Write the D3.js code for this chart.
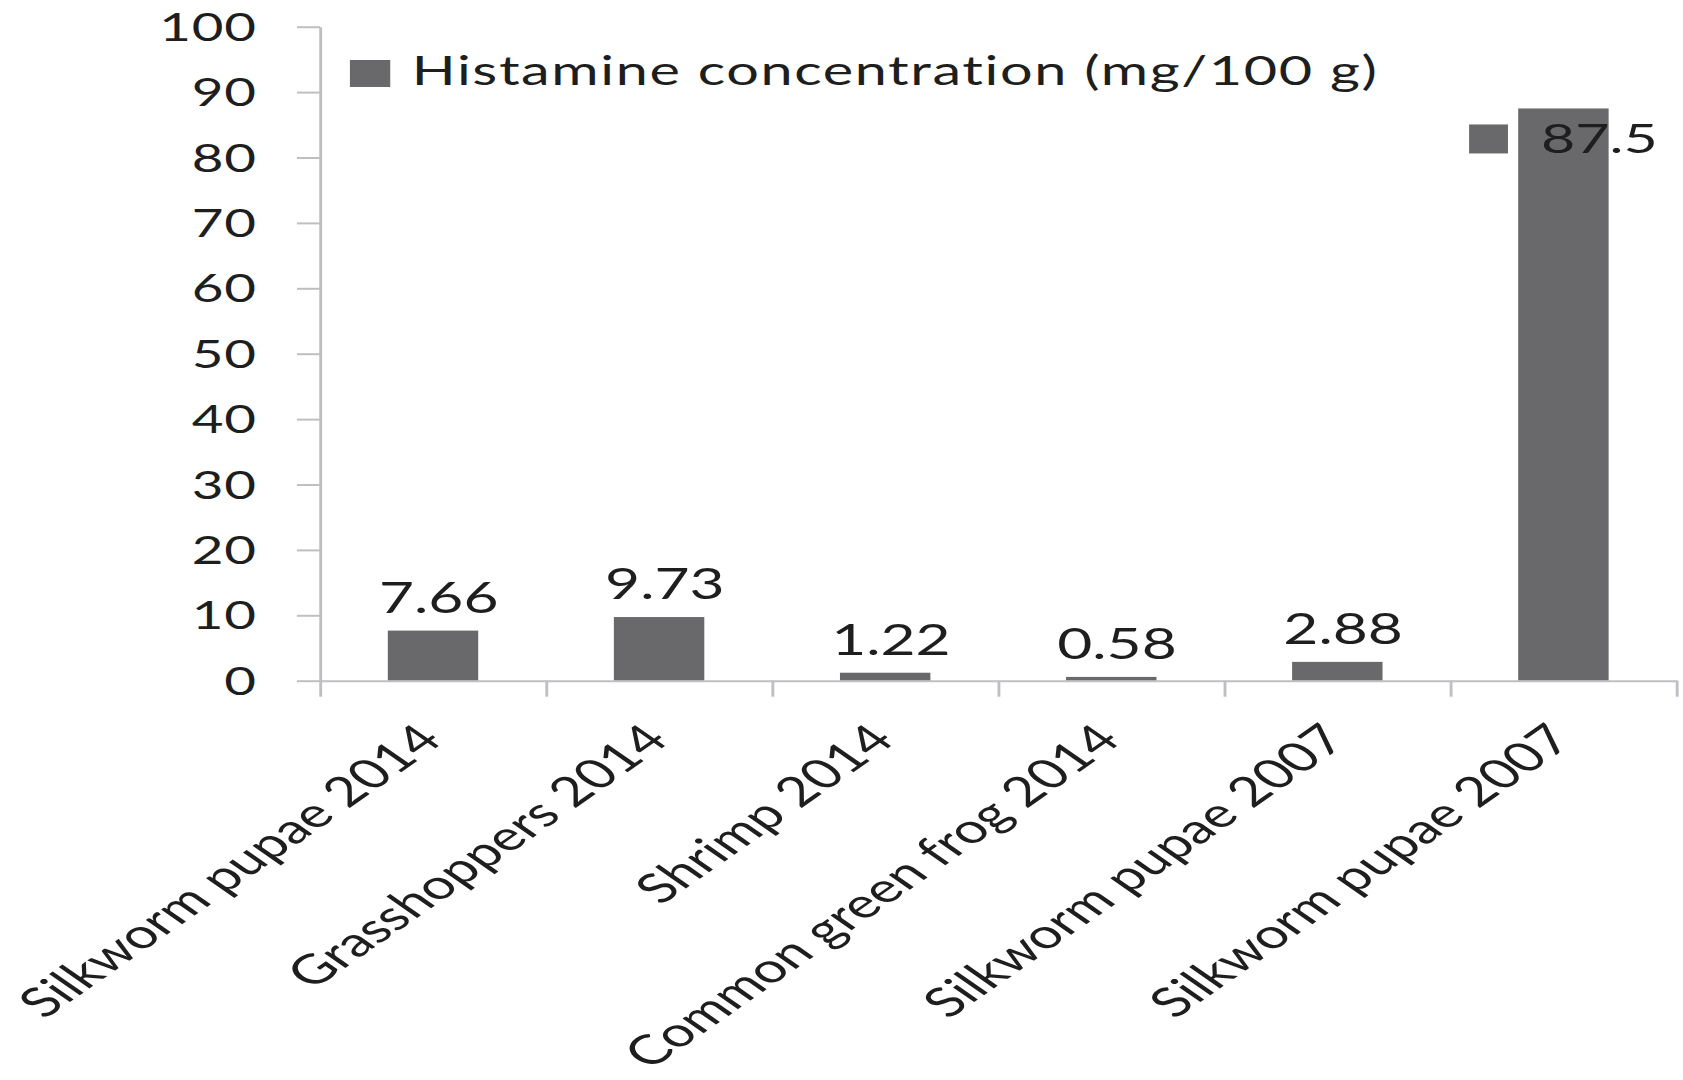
<!DOCTYPE html>
<html>
<head>
<meta charset="utf-8">
<script src="https://cdn.jsdelivr.net/npm/d3@7"></script>
<style>
  html, body { margin: 0; padding: 0; background: #ffffff; }
  svg { display: block; }
  text { font-family: Lato, "Open Sans", "DejaVu Sans", sans-serif; fill: #1e1e1e; }
</style>
</head>
<body>
<svg id="chart"></svg>
<script>
// Histamine content of edible insects and reference foods
const categories = [
  "Silkworm pupae 2014",
  "Grasshoppers 2014",
  "Shrimp 2014",
  "Common green frog 2014",
  "Silkworm pupae 2007",
  "Silkworm pupae 2007"
];
const values = [7.66, 9.73, 1.22, 0.58, 2.88, 87.5];
const valueLabels = ["7.66", "9.73", "1.22", "0.58", "2.88", "87.5"];
const yTicks = [0, 10, 20, 30, 40, 50, 60, 70, 80, 90, 100];
const seriesName = "Histamine concentration (mg/100 g)";

// The drawing is laid out on a narrower canvas and stretched to the page width.
const pageW = 1683, pageH = 1080;
const stretch = 1.44;
const W = pageW / stretch, H = pageH;

const barColor = "#69696b";
const axisColor = "#bfbfc3";

const svg = d3.select("#chart")
  .attr("width", pageW)
  .attr("height", pageH)
  .attr("viewBox", `0 0 ${W} ${H}`)
  .attr("preserveAspectRatio", "none");

const plot = { left: 222.2, right: 1164.2, top: 26.7, bottom: 680.7 };

const idx = categories.map((_, i) => i);
const x = d3.scaleBand()
  .domain(idx)
  .range([plot.left, plot.right])
  .paddingInner(0.6)
  .paddingOuter(0.3);

const y = d3.scaleLinear()
  .domain([0, 100])
  .range([plot.bottom, plot.top]);

// Category boundaries for the x-axis tick marks
const xEdges = d3.scaleLinear()
  .domain([0, categories.length])
  .range([plot.left, plot.right]);

// Bars
svg.append("g")
  .selectAll("rect")
  .data(values)
  .join("rect")
  .attr("x", (d, i) => x(i))
  .attr("width", x.bandwidth())
  .attr("y", d => y(d))
  .attr("height", d => y(0) - y(d))
  .attr("fill", barColor);

// Y axis
const yAxis = svg.append("g")
  .attr("transform", `translate(${plot.left},0)`)
  .call(d3.axisLeft(y).tickValues(yTicks).tickSize(16).tickSizeOuter(0).tickPadding(28));
yAxis.selectAll("line, path").attr("stroke", axisColor).attr("stroke-width", 2);
yAxis.selectAll("text")
  .attr("font-size", 38)
  .attr("dy", "0.36em")
  .style("fill", "#1e1e1e")
  .style("font-family", "Lato, 'Open Sans', sans-serif")
  .style("letter-spacing", "0.5px");

// X axis with ticks at category boundaries
const xAxis = svg.append("g")
  .attr("transform", `translate(0,${plot.bottom})`)
  .call(d3.axisBottom(xEdges).tickValues(d3.range(categories.length + 1)).tickSize(16).tickSizeOuter(0).tickFormat(""));
xAxis.selectAll("line, path").attr("stroke", axisColor).attr("stroke-width", 2);

// Rotated category labels
svg.append("g")
  .selectAll("text")
  .data(categories)
  .join("text")
  .attr("transform", (d, i) => `translate(${x(i) + x.bandwidth() / 2 + 8},742) rotate(-45)`)
  .attr("text-anchor", "end")
  .attr("font-size", 41)
  .text(d => d);

// Value labels: above the bar, or inside the top of a bar that reaches the legend band
const insideLimit = 80;
const labels = svg.append("g");
values.forEach((v, i) => {
  const cx = x(i) + x.bandwidth() / 2;
  if (v < insideLimit) {
    labels.append("text")
      .attr("x", cx + 4)
      .attr("y", y(v) - 18)
      .attr("text-anchor", "middle")
      .attr("font-size", 42)
      .text(valueLabels[i]);
  } else {
    const g = labels.append("g");
    const t = g.append("text")
      .attr("font-size", 41)
      .attr("y", y(v) + 45)
      .text(valueLabels[i]);
    const tw = t.node().getComputedTextLength();
    const keyW = 27, keyH = 29, gap = 23;
    const total = keyW + gap + tw;
    const left = cx - total / 2;
    g.insert("rect", "text")
      .attr("x", left)
      .attr("y", y(v) + 45 - keyH)
      .attr("width", keyW)
      .attr("height", keyH)
      .attr("fill", barColor);
    t.attr("x", left + keyW + gap);
  }
});

// Legend
const legend = svg.append("g");
legend.append("rect")
  .attr("x", 243)
  .attr("y", 60)
  .attr("width", 28)
  .attr("height", 27)
  .attr("fill", barColor);
legend.append("text")
  .attr("x", 286)
  .attr("y", 85)
  .attr("font-size", 40)
  .style("letter-spacing", "1.1px")
  .text(seriesName);
</script>
</body>
</html>
